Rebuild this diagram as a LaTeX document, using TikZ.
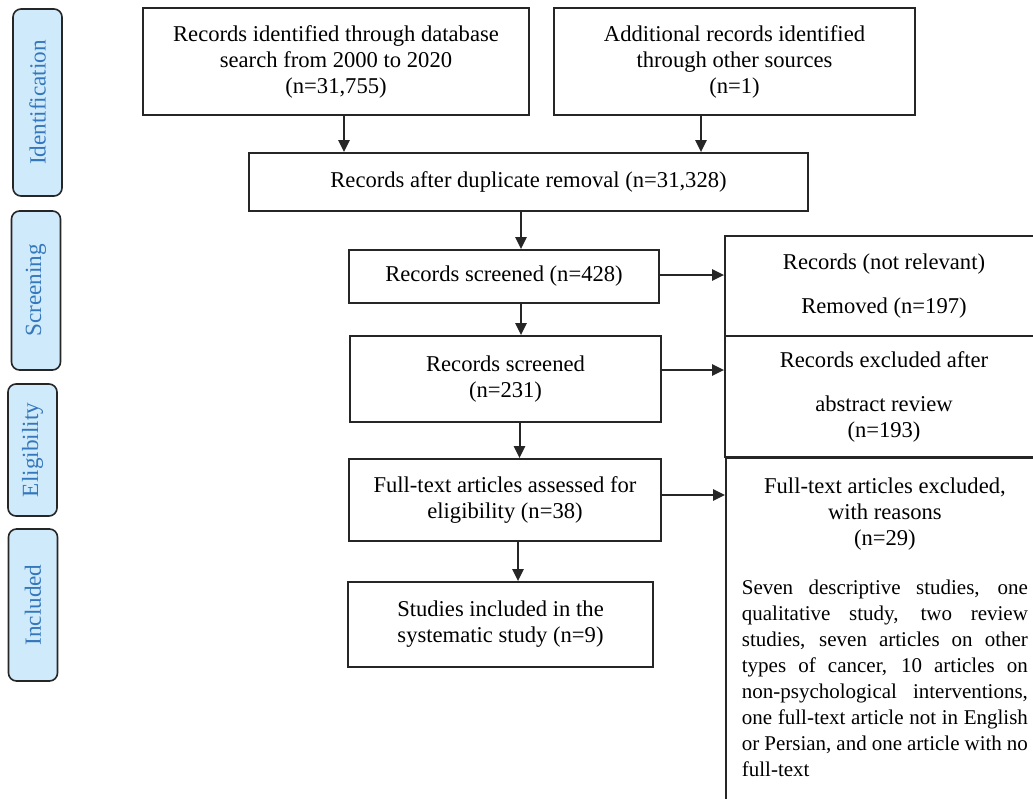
\documentclass[tikz,border=0pt]{standalone}
\usepackage{fontspec}
\setmainfont{Liberation Serif}
\usetikzlibrary{arrows.meta,positioning,calc}
\definecolor{PhaseFill}{HTML}{CFEAFA}
\definecolor{PhaseText}{HTML}{3577BD}
\definecolor{BoxLine}{HTML}{262626}

\begin{document}
\begin{tikzpicture}[x=0.5pt,y=-0.5pt,font=\fontsize{11.3}{13}\selectfont]
    \tikzset{b/.style={draw=BoxLine,line width=0.9pt,align=center,inner sep=2pt},
      ph/.style={draw=BoxLine,line width=0.8pt,fill=PhaseFill,text=PhaseText,rounded corners=4pt,
      rotate=90,minimum height=24.5pt,inner sep=0pt,font=\fontsize{11.6}{13}\selectfont},
      arr/.style={-{Triangle[length=6pt,width=5.6pt]},line width=1pt,BoxLine}}
    \useasboundingbox (0,0) rectangle (1033,798);
    \clip (0,0) rectangle (1033,798);
    % phases
    \node[ph,minimum width=93.5pt] (pid) at (37.5,102.5) {Identification};
    \node[ph,minimum width=79.5pt] (pscr) at (36,290.5) {Screening};
    \node[ph,minimum width=66pt] (pelig) at (32.5,450) {Eligibility};
    \node[ph,minimum width=76pt] (pincl) at (33,605) {Included};
    % main column
    \node[b,minimum width=193pt,minimum height=53.5pt] (recdb) at (336,61.5) {Records identified through database\\search from 2000 to 2020\\(n=31,755)};
    \node[b,minimum width=180.5pt,minimum height=53.5pt] (recoth) at (734.5,61.5) {Additional records identified\\through other sources\\(n=1)};
    \node[b,minimum width=279.5pt,minimum height=29pt] (dedup) at (528.5,182) {Records after duplicate removal (n=31,328)};
    \node[b,minimum width=155pt,minimum height=26.5pt] (scrA) at (504,276.5) {Records screened (n=428)};
    \node[b,minimum width=155.5pt,minimum height=43pt] (scrB) at (505.5,379) {Records screened\\(n=231)};
    \node[b,minimum width=156pt,minimum height=41pt] (fulltxt) at (505,500) {Full-text articles assessed for\\eligibility (n=38)};
    \node[b,minimum width=152.5pt,minimum height=42.5pt] (incl) at (500.5,624.5) {Studies included in the\\systematic study (n=9)};
    % excluded column
    \node[b,minimum width=159pt,minimum height=50pt] (notrel) at (884,286) {Records (not relevant)\\[9pt]Removed (n=197)};
    \node[b,minimum width=159pt,minimum height=60.5pt] (absexcl) at (884,396.5) {Records excluded after\\[9pt]abstract review\\(n=193)};
    \node[b,anchor=north west,text width=143pt,inner xsep=8pt,inner ysep=10pt,align=justify,text depth=150pt] (ftexcl) at (725,457)
      {{\centering Full-text articles excluded,\\with reasons\\(n=29)\par}
       \fontsize{10.5}{12.35}\selectfont\hyphenpenalty=10000\vspace{11.6pt}\noindent
       Seven descriptive studies, one\linebreak qualitative study, two review\linebreak
       studies, seven articles on other\linebreak types of cancer, 10 articles on\linebreak
       non-psychological interventions,\linebreak one full-text article not in English\linebreak
       or Persian, and one article with no\linebreak full-text};
    % arrows
    \draw[arr] ([xshift=4pt]recdb.south) -- ([xshift=4pt]recdb.south |- dedup.north);
    \draw[arr] ([xshift=-16.75pt]recoth.south) -- ([xshift=-16.75pt]recoth.south |- dedup.north);
    \draw[arr] ([xshift=8.5pt]scrA.north |- dedup.south) -- ([xshift=8.5pt]scrA.north);
    \draw[arr] ([xshift=8.5pt]scrA.south) -- ([xshift=8.5pt]scrA.south |- scrB.north);
    \draw[arr] ([xshift=7pt]scrB.south) -- ([xshift=7pt]scrB.south |- fulltxt.north);
    \draw[arr] ([xshift=6.5pt]fulltxt.south) -- ([xshift=6.5pt]fulltxt.south |- incl.north);
    \draw[arr] ([yshift=0.75pt]scrA.east) -- ([yshift=0.75pt]scrA.east -| notrel.west);
    \draw[arr] ([yshift=4.5pt]scrB.east) -- ([yshift=4.5pt]scrB.east -| absexcl.west);
    \draw[arr] ([yshift=2.5pt]fulltxt.east) -- ([yshift=2.5pt]fulltxt.east -| ftexcl.west);
\end{tikzpicture}
\end{document}
